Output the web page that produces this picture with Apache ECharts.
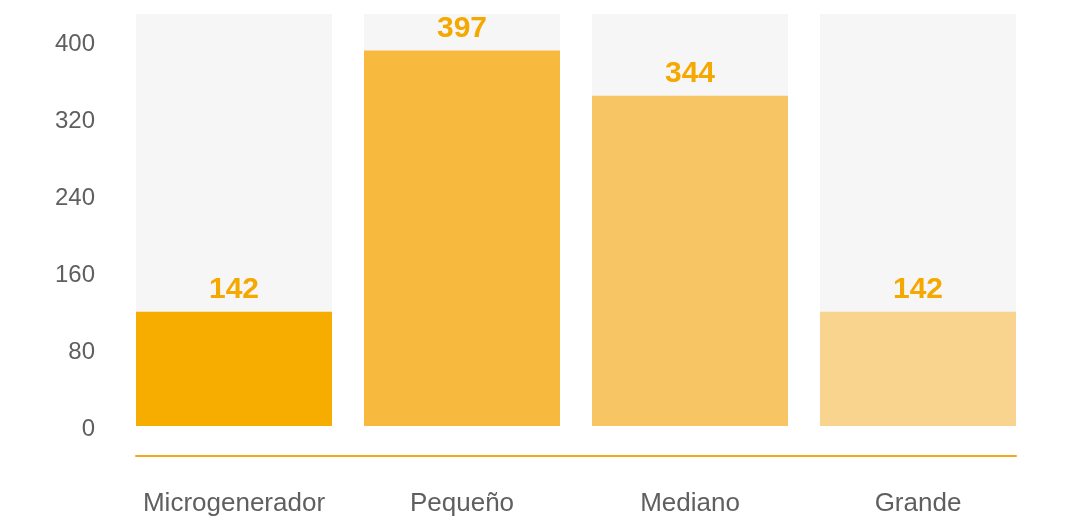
<!DOCTYPE html>
<html>
<head>
<meta charset="utf-8">
<script src="https://cdn.jsdelivr.net/npm/echarts@6/dist/echarts.min.js"></script>
<style>
html, body { margin: 0; padding: 0; background: #fff; }
#main { width: 1077px; height: 520px; }
</style>
</head>
<body>
<div id="main"></div>
<script>
var categories = ['Microgenerador', 'Pequeño', 'Mediano', 'Grande'];
var barValues = [119, 391, 344, 119];      // altura de barra
var labelValues = ['142', '397', '344', '142']; // etiqueta mostrada
var barColors = ['#f7ac00', '#f7b93e', '#f8c565', '#f9d48e'];
var yTicks = [0, 80, 160, 240, 320, 400];

var chart = echarts.init(document.getElementById('main'));
var font = '"Liberation Sans", Arial, Helvetica, sans-serif';

var option = {
    animation: false,
    grid: [
        {left: 120, right: 45, top: 14, bottom: 94},
        {left: 136, right: 61, top: 456, height: 0}  // línea base naranja
    ],
    xAxis: [
        {
            type: 'category',
            gridIndex: 0,
            data: categories,
            offset: 30,
            axisLine: {show: false},
            axisTick: {show: false},
            axisLabel: {
                interval: 0,
                margin: 35,
                fontSize: 26,
                color: '#5f5f5f',
                fontFamily: font
            }
        },
        {
            type: 'value',
            gridIndex: 1,
            min: 0,
            max: 1,
            axisLine: {show: true, lineStyle: {color: '#f5a81c', width: 2}},
            axisTick: {show: false},
            axisLabel: {show: false},
            splitLine: {show: false}
        }
    ],
    yAxis: [
        {
            type: 'value',
            gridIndex: 0,
            min: 0,
            max: 429,
            interval: 80,
            axisLine: {show: false},
            axisTick: {show: false},
            splitLine: {show: false},
            axisLabel: {
                margin: 25,
                fontSize: 24,
                color: '#5f5f5f',
                fontFamily: font,
                formatter: function (v) {
                    return yTicks.indexOf(v) >= 0 ? '{t|' + v + '}' : '';
                },
                rich: {
                    t: {
                        fontSize: 24,
                        color: '#5f5f5f',
                        fontFamily: font,
                        padding: [6, 0, 0, 0]
                    }
                }
            }
        },
        {
            type: 'value',
            gridIndex: 1,
            show: false
        }
    ],
    series: [
        {
            type: 'bar',
            xAxisIndex: 0,
            yAxisIndex: 0,
            barWidth: 196,
            showBackground: true,
            backgroundStyle: {color: '#f6f6f6'},
            data: barValues.map(function (v, i) {
                return {value: v, itemStyle: {color: barColors[i]}};
            }),
            label: {
                show: true,
                position: 'top',
                distance: 7,
                fontSize: 30,
                fontWeight: 'bold',
                color: '#f5a800',
                fontFamily: font,
                formatter: function (p) {
                    return labelValues[p.dataIndex];
                }
            }
        }
    ]
};
chart.setOption(option);
</script>
</body>
</html>
